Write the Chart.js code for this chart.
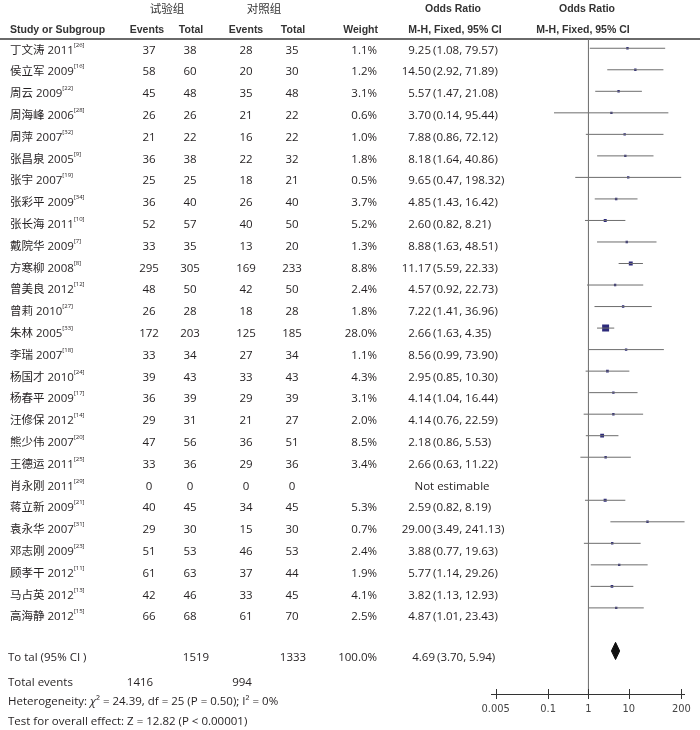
<!DOCTYPE html>
<html><head><meta charset="utf-8">
<script src="https://cdn.jsdelivr.net/npm/chart.js@4"></script>
<style>
body{margin:0;background:#fff;}
#wrap{position:relative;width:700px;height:730px;font-family:'Open Sans','Noto Sans CJK SC',sans-serif;color:#231f20;overflow:hidden;}
#wrap canvas{position:absolute;left:0;top:0;}
.t{position:absolute;white-space:nowrap;font-size:11.5px;line-height:14px;transform:translateY(-50%);}
.c{transform:translate(-50%,-50%);}
.r{transform:translate(-100%,-50%);}
.h{font-family:'Liberation Sans',Arial,sans-serif;font-weight:bold;font-size:10.5px;color:#333;}
.g{font-family:'Noto Sans CJK SC',sans-serif;font-size:11.5px;color:#333;}
sup{font-size:6px;line-height:6px;vertical-align:top;position:relative;top:-1px;}
#hline{position:absolute;left:0;top:38px;width:700px;height:2px;background:#6a6a6a;}
</style>
</head><body>
<div id="wrap"><div id="hline"></div><canvas id="c" width="700" height="730"></canvas></div>
<script>
// ---- data ----
const studies = ['丁文涛 2011','侯立军 2009','周云 2009','周海峰 2006','周萍 2007','张昌泉 2005','张宇 2007','张彩平 2009','张长海 2011','戴院华 2009','方寒柳 2008','曾美良 2012','曾莉 2010','朱林 2005','李瑞 2007','杨国才 2010','杨春平 2009','汪修保 2012','熊少伟 2007','王德运 2011','肖永刚 2011','蒋立新 2009','袁永华 2007','邓志刚 2009','顾孝干 2012','马占英 2012','高海静 2012'];
const refs = ['26','16','22','28','32','9','19','34','10','7','8','12','27','33','18','24','17','14','20','25','29','21','31','23','11','13','15'];
const expEvents = [37,58,45,26,21,36,25,36,52,33,295,48,26,172,33,39,36,29,47,33,0,40,29,51,61,42,66];
const expTotal  = [38,60,48,26,22,38,25,40,57,35,305,50,28,203,34,43,39,31,56,36,0,45,30,53,63,46,68];
const ctlEvents = [28,20,35,21,16,22,18,26,40,13,169,42,18,125,27,33,29,21,36,29,0,34,15,46,37,33,61];
const ctlTotal  = [35,30,48,22,22,32,21,40,50,20,233,50,28,185,34,43,39,27,51,36,0,45,30,53,44,45,70];
const weights   = [1.1,1.2,3.1,0.6,1.0,1.8,0.5,3.7,5.2,1.3,8.8,2.4,1.8,28.0,1.1,4.3,3.1,2.0,8.5,3.4,null,5.3,0.7,2.4,1.9,4.1,2.5];
const oddsRatio = [9.25,14.50,5.57,3.70,7.88,8.18,9.65,4.85,2.60,8.88,11.17,4.57,7.22,2.66,8.56,2.95,4.14,4.14,2.18,2.66,null,2.59,29.00,3.88,5.77,3.82,4.87];
const ciLow     = [1.08,2.92,1.47,0.14,0.86,1.64,0.47,1.43,0.82,1.63,5.59,0.92,1.41,1.63,0.99,0.85,1.04,0.76,0.86,0.63,null,0.82,3.49,0.77,1.14,1.13,1.01];
const ciHigh    = [79.57,71.89,21.08,95.44,72.12,40.86,198.32,16.42,8.21,48.51,22.33,22.73,36.96,4.35,73.90,10.30,16.44,22.59,5.53,11.22,null,8.19,241.13,19.63,29.26,12.93,23.43];
const totalExp = 1519, totalCtl = 1333, totalWeight = '100.0%';
const eventsExp = 1416, eventsCtl = 994;
const pooledOR = 4.69, pooledLow = 3.70, pooledHigh = 5.94;
const tickVals = [0.005, 0.1, 1, 10, 200];
const tickLabels = ['0.005','0.1','1','10','200'];

// ---- text table (HTML) ----
const wrap = document.getElementById('wrap');
function put(html, x, y, align, cls){
  const d = document.createElement('div');
  d.className = 't ' + (align||'') + ' ' + (cls||'');
  d.style.left = x + 'px'; d.style.top = y + 'px';
  d.innerHTML = html; wrap.appendChild(d);
}
put('试验组', 167, 8, 'c', 'g');
put('对照组', 264, 8, 'c', 'g');
put('Odds Ratio', 453, 8, 'c', 'h');
put('Odds Ratio', 587, 8, 'c', 'h');
put('Study or Subgroup', 10, 29, '', 'h');
put('Events', 147, 29, 'c', 'h');
put('Total', 191, 29, 'c', 'h');
put('Events', 246, 29, 'c', 'h');
put('Total', 293, 29, 'c', 'h');
put('Weight', 378, 29, 'r', 'h');
put('M-H, Fixed, 95% CI', 455, 29, 'c', 'h');
put('M-H, Fixed, 95% CI', 583, 29, 'c', 'h');

studies.forEach((s, i) => {
  const y = 49.5 + 21.8 * i;
  put(s + '<sup>[' + refs[i] + ']</sup>', 10, y);
  put(String(expEvents[i]), 149, y, 'c');
  put(String(expTotal[i]), 190, y, 'c');
  put(String(ctlEvents[i]), 246, y, 'c');
  put(String(ctlTotal[i]), 292, y, 'c');
  if (oddsRatio[i] === null) {
    put('Not estimable', 452, y, 'c');
  } else {
    put(weights[i].toFixed(1) + '%', 377, y, 'r');
    put(oddsRatio[i].toFixed(2), 431, y, 'r');
    put('(' + ciLow[i].toFixed(2) + ', ' + ciHigh[i].toFixed(2) + ')', 433, y);
  }
});
put('To tal (95% CI )', 8, 657);
put(String(totalExp), 196, 657, 'c');
put(String(totalCtl), 293, 657, 'c');
put(totalWeight, 377, 657, 'r');
put(pooledOR.toFixed(2), 435, 657, 'r');
put('(' + pooledLow.toFixed(2) + ', ' + pooledHigh.toFixed(2) + ')', 437, 657);
put('Total events', 8, 682);
put(String(eventsExp), 140, 682, 'c');
put(String(eventsCtl), 242, 682, 'c');
put('Heterogeneity: <i>χ</i>² = 24.39, df = 25 (P = 0.50); I² = 0%', 8, 701);
put('Test for overall effect: Z = 12.82 (P < 0.00001)', 8, 721);

// ---- chart ----
const ciData = [];
const ptData = [], ptRadius = [];
oddsRatio.forEach((v, i) => {
  if (v === null) return;
  ciData.push({x: ciLow[i], y: i}, {x: ciHigh[i], y: i}, {x: 1, y: null});
  ptData.push({x: v, y: i});
  ptRadius.push(Math.max(1.7, Math.sqrt(weights[i]) * 0.93));
});
const totalRow = 28, dh = 0.4;
const yMin = -0.43, yMax = 30;

const axisTicks = {
  id: 'axisTicks',
  afterDraw(chart) {
    const xs = chart.scales.x, ctx = chart.ctx;
    ctx.save(); ctx.strokeStyle = '#333'; ctx.lineWidth = 1;
    tickVals.forEach(v => {
      const px = Math.round(xs.getPixelForValue(v)) + 0.5;
      ctx.beginPath(); ctx.moveTo(px, xs.top - 5); ctx.lineTo(px, xs.top + 5); ctx.stroke();
    });
    ctx.restore();
  }
};

new Chart(document.getElementById('c'), {
  type: 'scatter',
  data: {
    datasets: [
      {data: [{x: 1, y: yMin}, {x: 1, y: yMax}], showLine: true, borderColor: '#777', borderWidth: 1, pointRadius: 0},
      {data: ciData, showLine: true, spanGaps: false, borderColor: '#6d6d6d', borderWidth: 1, pointRadius: 0},
      {data: ptData, pointStyle: 'rect', pointRadius: ptRadius, backgroundColor: '#2d2a7b', borderWidth: 0},
      {data: [{x: pooledLow, y: totalRow}, {x: pooledOR, y: totalRow - dh}, {x: pooledHigh, y: totalRow}], showLine: true, borderColor: '#111', borderWidth: 1, pointRadius: 0, fill: {value: totalRow}, backgroundColor: '#111', tension: 0},
      {data: [{x: pooledLow, y: totalRow}, {x: pooledOR, y: totalRow + dh}, {x: pooledHigh, y: totalRow}], showLine: true, borderColor: '#111', borderWidth: 1, pointRadius: 0, fill: {value: totalRow}, backgroundColor: '#111', tension: 0}
    ]
  },
  options: {
    responsive: false, animation: false, devicePixelRatio: 1,
    layout: {padding: {left: 491.7, right: 12, top: 39, bottom: 6}},
    plugins: {legend: {display: false}, tooltip: {enabled: false}},
    events: [],
    scales: {
      x: {
        type: 'logarithmic', min: 0.004, max: 245, position: 'bottom',
        afterBuildTicks: (axis) => { axis.ticks = tickVals.map(v => ({value: v})); },
        afterFit: (s) => { s.height = 30; },
        grid: {display: true, drawOnChartArea: false, drawTicks: false},
        border: {display: true, color: '#333', width: 1},
        ticks: {autoSkip: false, maxRotation: 0, padding: 9, color: '#444',
          font: {family: "'Liberation Sans Narrow','DejaVu Sans Condensed',Arial", size: 11},
          callback: (v) => { const k = tickVals.indexOf(v); return k >= 0 ? tickLabels[k] : ''; }}
      },
      y: {type: 'linear', reverse: true, min: yMin, max: yMax, display: false}
    }
  },
  plugins: [axisTicks]
});
</script>
</body></html>
